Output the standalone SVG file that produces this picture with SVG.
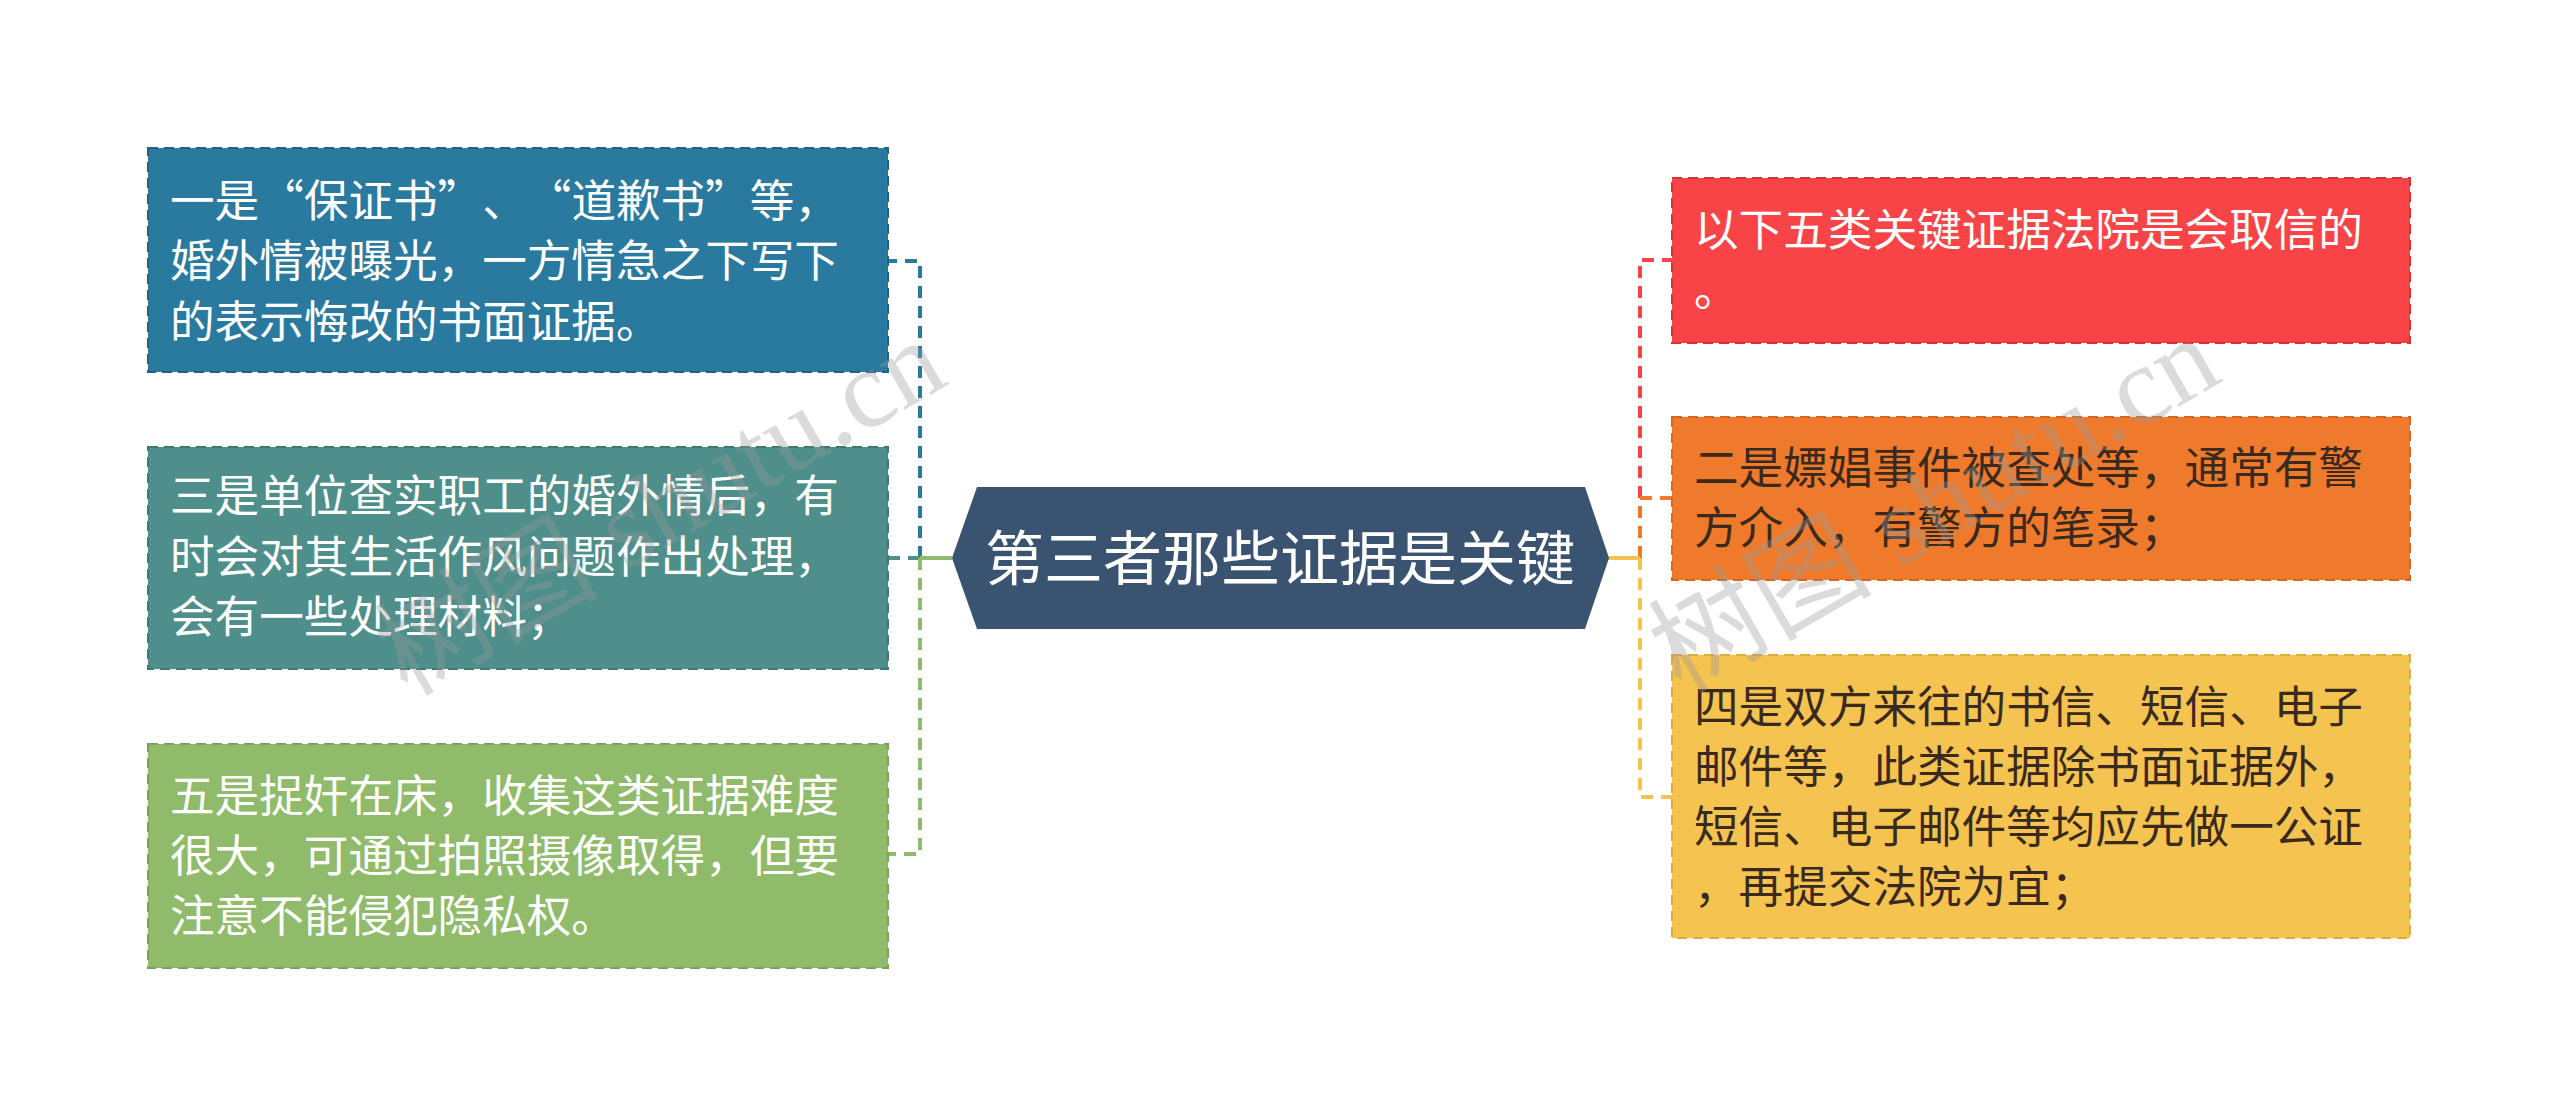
<svg xmlns="http://www.w3.org/2000/svg" width="2560" height="1116" viewBox="0 0 2560 1116">
<style>
.box{stroke-width:2;stroke-dasharray:10 6}
.t{font-family:"Noto Sans CJK SC","Noto Sans",sans-serif;font-size:44.6px}
.w{fill:#ffffff}
.d{fill:#3a2a1e}
.c{fill:none;stroke-width:4;stroke-dasharray:12 8}
.wm{font-family:"Liberation Serif","Noto Sans CJK SC",serif;font-size:112px;fill:#9a9a9a;opacity:0.35}
</style>
<rect width="2560" height="1116" fill="#ffffff"/>
<g id="connectors">
<path class="c" d="M920 558 V261 H888" stroke="#2a7aa0"/>
<path class="c" d="M920 558 H888" stroke="#4e8f8b"/>
<path class="c" d="M920 558 V854 H888" stroke="#8fbb6a"/>
<line x1="952" y1="558" x2="920" y2="558" stroke="#8fbb6a" stroke-width="4"/>
<path class="c" d="M1640 558 V260 H1672" stroke="#f84447"/>
<path class="c" d="M1640 558 V498 H1672" stroke="#f07a2c"/>
<path class="c" d="M1640 558 V797 H1672" stroke="#f5c350"/>
<line x1="1608" y1="558" x2="1640" y2="558" stroke="#f5c350" stroke-width="4"/>
</g>
<g id="center">
<polygon points="952,558 977,487 1585,487 1609,558 1585,629 977,629" fill="#3a5370"/>
<text x="1280" y="580" text-anchor="middle" font-family="'Noto Sans CJK SC','Noto Sans',sans-serif" font-size="59" fill="#ffffff">第三者那些证据是关键</text>
</g>
<g id="n1">
<rect class="box" x="148" y="148" width="740" height="224" fill="#2a7aa0" stroke="#1f6488"/>
<text class="t w" x="170 214.6 259.2 303.8 348.4 393 437.6 482.2 526.8 571.4 616 660.6 705.2 749.8 794.4" y="217">一是“保证书”、“道歉书”等，</text>
<text class="t w" x="170" y="277">婚外情被曝光，一方情急之下写下</text>
<text class="t w" x="170" y="338">的表示悔改的书面证据。</text>
</g>
<g id="n3">
<rect class="box" x="148" y="447" width="740" height="222" fill="#4e8f8b" stroke="#3c7874"/>
<text class="t w" x="170" y="512">三是单位查实职工的婚外情后，有</text>
<text class="t w" x="170" y="573">时会对其生活作风问题作出处理，</text>
<text class="t w" x="170" y="633">会有一些处理材料；</text>
</g>
<g id="n5">
<rect class="box" x="148" y="744" width="740" height="224" fill="#8fbb6a" stroke="#77a455"/>
<text class="t w" x="170" y="812">五是捉奸在床，收集这类证据难度</text>
<text class="t w" x="170" y="872">很大，可通过拍照摄像取得，但要</text>
<text class="t w" x="170" y="932">注意不能侵犯隐私权。</text>
</g>
<g id="r1">
<rect class="box" x="1672" y="178" width="738" height="165" fill="#f84447" stroke="#d63336"/>
<text class="t w" x="1694" y="246">以下五类关键证据法院是会取信的</text>
<text class="t w" x="1694" y="306">。</text>
</g>
<g id="r2">
<rect class="box" x="1672" y="417" width="738" height="163" fill="#f07a2c" stroke="#d5661e"/>
<text class="t d" x="1694" y="484">二是嫖娼事件被查处等，通常有警</text>
<text class="t d" x="1694" y="544">方介入，有警方的笔录；</text>
</g>
<g id="r4">
<rect class="box" x="1672" y="655" width="738" height="283" fill="#f5c350" stroke="#e0ab38"/>
<text class="t d" x="1694" y="723">四是双方来往的书信、短信、电子</text>
<text class="t d" x="1694" y="783">邮件等，此类证据除书面证据外，</text>
<text class="t d" x="1694" y="843">短信、电子邮件等均应先做一公证</text>
<text class="t d" x="1694" y="903">，再提交法院为宜；</text>
</g>
<g id="watermarks">
<text class="wm" x="661" y="545" text-anchor="middle" transform="rotate(-30 661 509)">树图 shutu.cn</text>
<text class="wm" x="1935" y="542" text-anchor="middle" transform="rotate(-30 1935 506)">树图 shutu.cn</text>
</g>
</svg>
